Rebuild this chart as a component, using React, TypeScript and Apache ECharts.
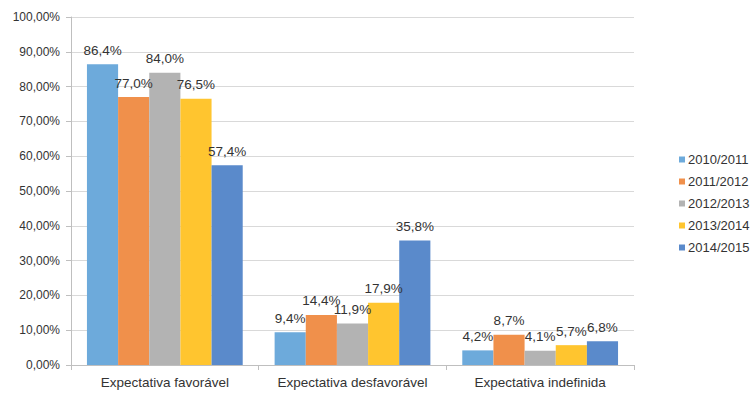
import React, { useEffect, useRef } from "react";
import * as echarts from "echarts";

const categories = ["Expectativa favorável", "Expectativa desfavorável", "Expectativa indefinida"];
const seriesNames = ["2010/2011", "2011/2012", "2012/2013", "2013/2014", "2014/2015"];
const s2010 = [86.4, 9.4, 4.2];
const s2011 = [77.0, 14.4, 8.7];
const s2012 = [84.0, 11.9, 4.1];
const s2013 = [76.5, 17.9, 5.7];
const s2014 = [57.4, 35.8, 6.8];
const seriesValues = [s2010, s2011, s2012, s2013, s2014];
const colors = ["#6DAADB", "#F0904B", "#B3B3B3", "#FFC52F", "#5A8ACB"];

const FONT = "Liberation Sans, Arial, sans-serif";

export default function App() {
  const ref = useRef<HTMLDivElement>(null);
  useEffect(() => {
    const chart = echarts.init(ref.current!, null, { renderer: "svg" });
    chart.setOption({
      animation: false,
      textStyle: { fontFamily: FONT },
      grid: { left: 71, right: 119, top: 17, bottom: 30 },
      legend: {
        orient: "vertical",
        left: 674,
        top: 148,
        itemWidth: 6,
        itemHeight: 6,
        itemGap: 9,
        icon: "rect",
        textStyle: { fontFamily: FONT, fontSize: 13, color: "#333", padding: [0, 0, 0, -2] },
        data: seriesNames,
      },
      xAxis: {
        type: "category",
        data: categories,
        axisLine: { lineStyle: { color: "#BFBFBF" } },
        axisTick: { show: true, length: 5, lineStyle: { color: "#BFBFBF" } },
        axisLabel: { color: "#333", fontSize: 13.5, fontFamily: FONT, margin: 10, interval: 0, hideOverlap: false },
      },
      yAxis: {
        type: "value",
        min: 0,
        max: 100,
        interval: 10,
        axisLine: { show: true, lineStyle: { color: "#BFBFBF" } },
        axisTick: { show: true, length: 5, lineStyle: { color: "#BFBFBF" } },
        splitLine: { lineStyle: { color: "#D9D9D9" } },
        axisLabel: {
          color: "#333",
          fontSize: 12,
          fontFamily: FONT,
          margin: 11,
          formatter: (v: number) => v.toFixed(2).replace(".", ",") + "%",
        },
      },
      series: seriesNames.map((name, i) => ({
        name,
        type: "bar",
        data: seriesValues[i],
        barGap: "0%",
        barCategoryGap: "17%",
        itemStyle: { color: colors[i] },
        label: {
          show: true,
          position: "top",
          distance: 7,
          color: "#333",
          fontSize: 13.5,
          fontFamily: FONT,
          formatter: (p: any) => p.value.toFixed(1).replace(".", ",") + "%",
        },
      })),
    });
    return () => chart.dispose();
  }, []);
  return <div ref={ref} style={{ width: 753, height: 395, position: "absolute", left: 0, top: 0, background: "#fff" }} />;
}
